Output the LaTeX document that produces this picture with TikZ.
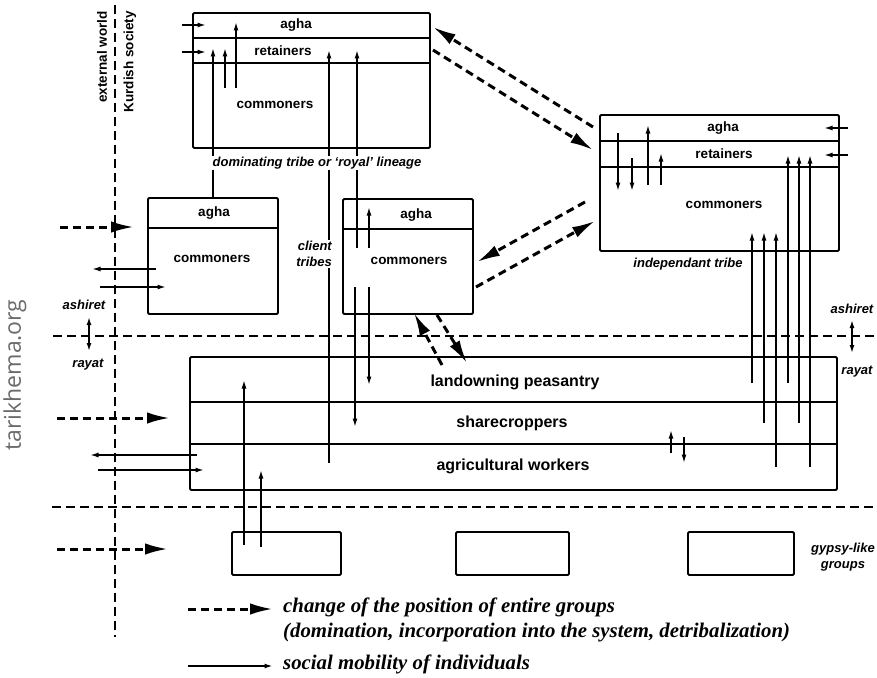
\documentclass[tikz,border=0pt]{standalone}
\usepackage{fontspec}
\setmainfont{Liberation Serif}
\setsansfont{Liberation Sans}
\newfontfamily\wmfont{Open Sans}
\usetikzlibrary{arrows.meta}
\tikzset{
  boxline/.style={line width=1.9pt, rounded corners=1.2pt},
  divline/.style={line width=1.7pt},
  mob/.style={line width=1.5pt, -{Latex[length=8.5pt,width=5pt]}},
  mobboth/.style={line width=1.5pt, {Latex[length=8pt,width=5pt]}-{Latex[length=8pt,width=5pt]}},
  grp/.style={line width=3pt, dash pattern=on 8pt off 5pt, -{Latex[length=23pt,width=11.5pt]}},
  bound/.style={line width=2.2pt, dash pattern=on 9pt off 5pt},
  lab/.style={font=\sffamily\bfseries\fontsize{13.5}{15}\selectfont, inner sep=1pt},
  capt/.style={font=\sffamily\bfseries\itshape\fontsize{13}{15}\selectfont, inner sep=1pt},
  peas/.style={font=\sffamily\bfseries\fontsize{16}{18}\selectfont, inner sep=1pt},
  leg/.style={font=\rmfamily\bfseries\itshape\fontsize{20.8}{24}\selectfont, anchor=west, inner sep=0pt},
}
\begin{document}
\begin{tikzpicture}[x=1pt,y=-1pt]
\useasboundingbox (0,0) rectangle (877,677);
\fill[white] (0,0) rectangle (877,677);

% watermark
\node[font=\wmfont\fontsize{23}{25}\selectfont, text=black!58, rotate=90] (wm) at (15,375) {tarikhema.org};

% boundaries
\coordinate (vt) at (115,5); \coordinate (vb) at (115,637);
\draw[bound] (vt) -- (vb);
\coordinate (h1l) at (53,336); \coordinate (h1r) at (877,336);
\draw[bound] (h1l) -- (h1r);
\coordinate (h2l) at (52,507); \coordinate (h2r) at (877,507);
\draw[bound] (h2l) -- (h2r);

\node[lab, rotate=90, anchor=east] (ext) at (102,10) {external world};
\node[lab, rotate=90, anchor=east] (kur) at (130,10) {Kurdish society};

% ---------- top box: dominating tribe
\draw[boxline] (193,13) rectangle (430,148);
\draw[divline] (193,38) -- (430,38);
\draw[divline] (193,63) -- (430,63);
\node[lab] (tagha) at (296,25) {agha};
\node[lab] (tret) at (283,51) {retainers};
\node[lab] (tcom) at (275,105) {commoners};

% ---------- right box: independant tribe
\draw[boxline] (600,115) rectangle (839,251);
\draw[divline] (600,141) -- (839,141);
\draw[divline] (600,167) -- (839,167);
\node[lab] (ragha) at (723,128) {agha};
\node[lab] (rret) at (724,154) {retainers};
\node[lab] (rcom) at (724,205) {commoners};
\node[capt] (rcap) at (688,264) {independant tribe};

% ---------- left client box
\draw[boxline] (148,198) rectangle (278,314);
\draw[divline] (148,228) -- (278,228);
\node[lab] (lagha) at (214,213) {agha};
\node[lab] (lcom) at (212,259) {commoners};

% ---------- middle client box
\draw[boxline] (343,199) rectangle (473,314);
\draw[divline] (343,229) -- (473,229);
\node[lab] (magha) at (416,215) {agha};
\node[lab] (mcom) at (409,261) {commoners};

% ---------- peasantry box
\draw[boxline] (190,357) rectangle (837,490);
\draw[divline] (190,402) -- (837,402);
\draw[divline] (190,444) -- (837,444);
\node[peas] (land) at (515,382) {landowning peasantry};
\node[peas] (share) at (512,423) {sharecroppers};
\node[peas] (agri) at (513,466) {agricultural workers};

% ---------- gypsy boxes
\draw[boxline] (232,532) rectangle (341,575);
\draw[boxline] (456,532) rectangle (569,575);
\draw[boxline] (688,532) rectangle (794,575);
\node[capt, align=center] (gyp) at (843,557) {gypsy-like\\[1pt]groups};

% ---------- social mobility arrows (solid)
\draw[mob] (182,25) -- (206,25);
\draw[mob] (182,52) -- (206,52);
\draw[mob] (848,128) -- (824,128);
\draw[mob] (848,155) -- (824,155);
\draw[mob] (213,198) -- (213,48);
\draw[mob] (225,88) -- (225,48);
\draw[mob] (236,88) -- (236,22);
\draw[mob] (329,463) -- (329,50);
\draw[mob] (357,248) -- (357,50);
\draw[mob] (369,248) -- (369,207);
\draw[mob] (355,287) -- (355,427);
\draw[mob] (369,287) -- (369,385);
\draw[mob] (244,545) -- (244,380);
\draw[mob] (261,547) -- (261,470);
\draw[mob] (618,133) -- (618,191);
\draw[mob] (632,158) -- (632,191);
\draw[mob] (648,185) -- (648,125);
\draw[mob] (661,185) -- (661,153);
\draw[mob] (752,383) -- (752,232);
\draw[mob] (764,423) -- (764,232);
\draw[mob] (776,467) -- (776,232);
\draw[mob] (788,383) -- (788,155);
\draw[mob] (799,423) -- (799,155);
\draw[mob] (810,467) -- (810,155);
\draw[mob] (671,453) -- (671,430);
\draw[mob] (684,437) -- (684,463);
\draw[mob] (156,269) -- (92,269);
\draw[mob] (100,287) -- (166,287);
\draw[mob] (197,455) -- (90,455);
\draw[mob] (98,470) -- (204,470);
\draw[mobboth] (89,317) -- (89,351);
\draw[mobboth] (852,320) -- (852,353);

% ---------- group change arrows (dashed)
\draw[grp] (593,127) -- (433,27);
\draw[grp] (433,50) -- (593,150);
\draw[grp] (585,202) -- (477,262);
\draw[grp] (476,287) -- (595,221);
\draw[grp] (442,365) -- (414,313);
\draw[grp] (437,315) -- (467,363);
\draw[grp] (60,227) -- (134,227);
\draw[grp] (57,418) -- (170,418);
\draw[grp] (57,549) -- (168,549);

% ---------- captions over lines
\node[capt, fill=white] (tcap) at (317,163) {dominating tribe or ‘royal’ lineage};
\node[capt, fill=white, align=right, anchor=east] (client) at (333,254) {client\\[1pt]tribes};
\node[capt] (ash1) at (84,305) {ashiret};
\node[capt] (ray1) at (88,365) {rayat};
\node[capt] (ash2) at (852,309) {ashiret};
\node[capt] (ray2) at (857,372) {rayat};

% ---------- legend
\coordinate (lg1a) at (188,609); \coordinate (lg1b) at (273,609);
\draw[grp] (lg1a) -- (lg1b);
\node[leg] (leg1) at (283,607) {change of the position of entire groups};
\node[leg] (leg2) at (283,633) {(domination, incorporation into the system, detribalization)};
\coordinate (lg2a) at (188,666); \coordinate (lg2b) at (273,666);
\draw[mob, line width=1.8pt] (lg2a) -- (lg2b);
\node[leg] (leg3) at (283,664) {social mobility of individuals};
\end{tikzpicture}
\end{document}
